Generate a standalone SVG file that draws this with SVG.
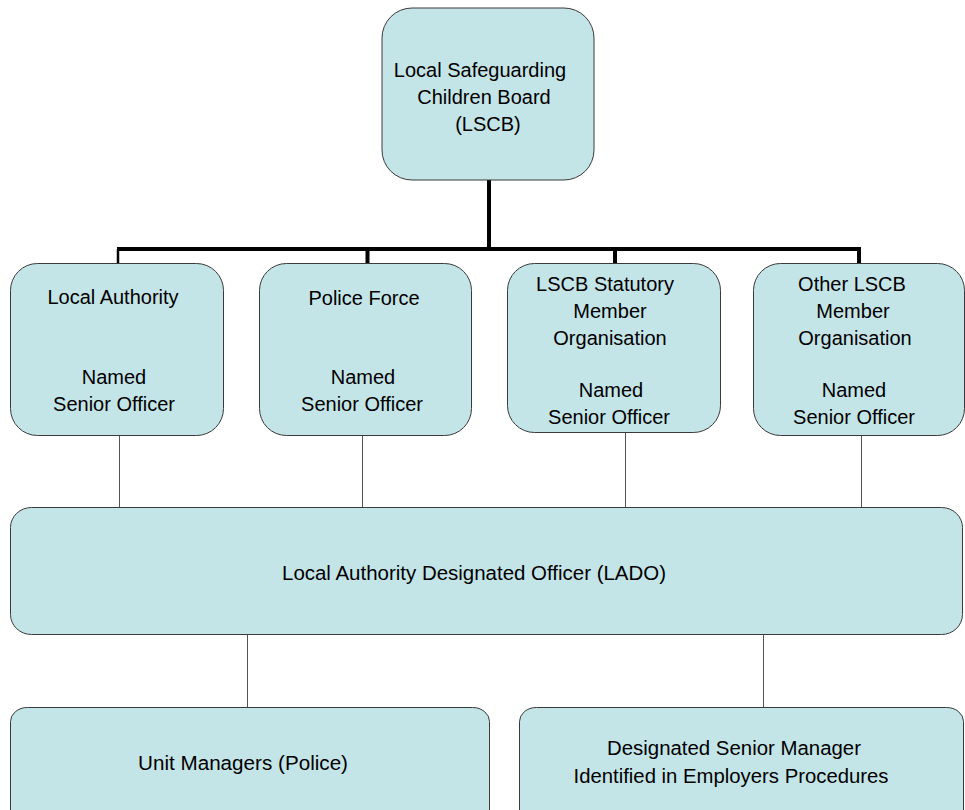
<svg xmlns="http://www.w3.org/2000/svg" width="965" height="810" viewBox="0 0 965 810">
<style>
.box{fill:#c4e5e8;stroke:#3a3a3a;stroke-width:1}
.t{font-family:"Liberation Sans",Arial,sans-serif;font-size:20px;fill:#000;text-anchor:middle}
.thick{stroke:#000;stroke-width:4;fill:none}
.thin{stroke:#555;stroke-width:1;fill:none}
</style>
<rect width="965" height="810" fill="#fff"/>
<g id="connectors">
<line class="thick" x1="489" y1="180" x2="489" y2="249"/>
<line class="thick" x1="117" y1="249" x2="861" y2="249"/>
<line class="thick" x1="118" y1="249" x2="118" y2="263" style="stroke-width:2.5"/>
<line class="thick" x1="367.5" y1="249" x2="367.5" y2="263"/>
<line class="thick" x1="615" y1="249" x2="615" y2="263"/>
<line class="thick" x1="859" y1="249" x2="859" y2="263"/>
<line class="thin" x1="119.5" y1="436" x2="119.5" y2="507"/>
<line class="thin" x1="362.5" y1="436" x2="362.5" y2="507"/>
<line class="thin" x1="625.5" y1="427" x2="625.5" y2="507"/>
<line class="thin" x1="861.5" y1="436" x2="861.5" y2="507"/>
<line class="thin" x1="247.5" y1="635" x2="247.5" y2="707"/>
<line class="thin" x1="763.5" y1="635" x2="763.5" y2="707"/>
</g>
<g id="lscb">
<rect class="box" x="382" y="8" width="212" height="172" rx="30"/>
<text class="t" x="480" y="77">Local Safeguarding</text>
<text class="t" x="484" y="104">Children Board</text>
<text class="t" x="488" y="131">(LSCB)</text>
</g>
<g id="local-authority">
<rect class="box" x="10.5" y="263.5" width="213" height="172" rx="27"/>
<text class="t" x="113" y="304">Local Authority</text>
<text class="t" x="114" y="384">Named</text>
<text class="t" x="114" y="411">Senior Officer</text>
</g>
<g id="police-force">
<rect class="box" x="259.5" y="263.5" width="212" height="172" rx="27"/>
<text class="t" x="364" y="305">Police Force</text>
<text class="t" x="363" y="384">Named</text>
<text class="t" x="362" y="411">Senior Officer</text>
</g>
<g id="lscb-statutory">
<rect class="box" x="507.5" y="263.5" width="213" height="169" rx="27"/>
<text class="t" x="605" y="291">LSCB Statutory</text>
<text class="t" x="610" y="318">Member</text>
<text class="t" x="610" y="345">Organisation</text>
<text class="t" x="611" y="397">Named</text>
<text class="t" x="609" y="424">Senior Officer</text>
</g>
<g id="other-lscb">
<rect class="box" x="753.5" y="263.5" width="211" height="172" rx="27"/>
<text class="t" x="852" y="291">Other LSCB</text>
<text class="t" x="853" y="318">Member</text>
<text class="t" x="855" y="345">Organisation</text>
<text class="t" x="854" y="397">Named</text>
<text class="t" x="854" y="424">Senior Officer</text>
</g>
<g id="lado">
<rect class="box" x="10.5" y="507.5" width="952" height="127" rx="21" ry="20"/>
<text class="t" x="474" y="580" textLength="384" lengthAdjust="spacingAndGlyphs">Local Authority Designated Officer (LADO)</text>
</g>
<g id="unit-managers">
<rect class="box" x="10.5" y="707.5" width="479" height="130" rx="17" ry="14"/>
<text class="t" x="243" y="770" textLength="210" lengthAdjust="spacingAndGlyphs">Unit Managers (Police)</text>
</g>
<g id="designated-senior-manager">
<rect class="box" x="519.5" y="707.5" width="444" height="130" rx="17" ry="14"/>
<text class="t" x="734" y="755" textLength="254" lengthAdjust="spacingAndGlyphs">Designated Senior Manager</text>
<text class="t" x="731" y="783" textLength="315" lengthAdjust="spacingAndGlyphs">Identified in Employers Procedures</text>
</g>
</svg>
